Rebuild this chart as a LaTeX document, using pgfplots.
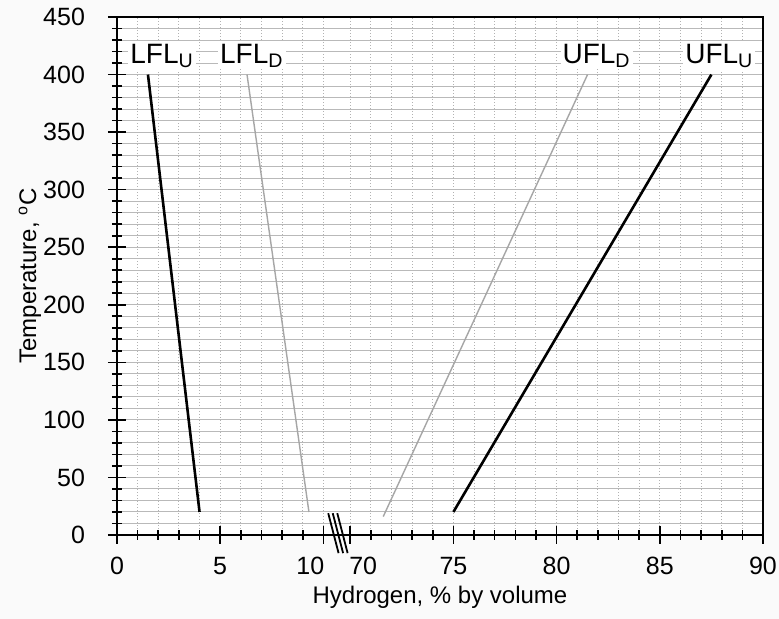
\documentclass[border=0pt]{standalone}
\usepackage{pgfplots}
\pgfplotsset{compat=1.18}
\usepackage{fontspec}
\setmainfont{Liberation Sans}
\usetikzlibrary{calc,backgrounds}
\newcommand{\tkf}{\fontsize{12.5}{14}\selectfont}

\begin{document}
\begin{tikzpicture}
\begin{axis}[
  scale only axis,
  width=323pt, height=259pt,
  % broken x axis: 70..90 is pulled left so that 70 sits just after 10
  x coord trafo/.code={\pgfmathparse{#1>40 ? #1-58.7 : #1}},
  xmin=0, xmax=90, ymin=0, ymax=450,
  xtick={0,5,10,70,75,80,85,90},
  xticklabels={{\tkf 0},{\tkf 5},{\tkf\hspace*{-13pt}10},{\tkf\hspace*{13pt}70},
    {\tkf 75},{\tkf 80},{\tkf 85},{\tkf 90}},
  minor xtick={1,2,3,4,6,7,8,9,71,72,73,74,76,77,78,79,81,82,83,84,86,87,88,89},
  ytick={0,50,...,450},
  yticklabel={\tkf\pgfmathprintnumber{\tick}},
  minor y tick num=4,
  tick pos=left,
  tick align=center,
  major tick length=9pt, minor tick length=5pt,
  tick style={black, line width=0.8pt},
  axis line style={black, line width=0.9pt},
  grid=both,
  major grid style={gray!55, line width=0.5pt},
  minor grid style={gray!55, line width=0.5pt},
  x grid style={densely dotted, gray!60},
  /pgf/number format/assume math mode=true,
  tick label style={font=\tkf},
  xticklabel style={yshift=-3pt},
  yticklabel style={xshift=-8pt},
  xlabel={Hydrogen, \% by volume},
  ylabel={Temperature, \textsuperscript{o}C},
  label style={font=\fontsize{12}{14}\selectfont},
  xlabel style={at={(rel axis cs:0.5,0)}, anchor=center, yshift=-31pt},
  ylabel style={at={(rel axis cs:0,0.5)}, anchor=center, yshift=43.5pt},
  axis background/.style={fill=white},
  clip=false,
]
% LFL upward
\addplot[black, line width=1.3pt] coordinates {(4.0,20) (1.5,400)};
% LFL downward
\addplot[gray!70, line width=0.7pt] coordinates {(9.3,20) (6.3,400)};
% UFL downward
\addplot[gray!70, line width=0.7pt] coordinates {(71.6,16) (81.5,400)};
% UFL upward
\addplot[black, line width=1.3pt] coordinates {(75,20) (87.5,400)};

\begin{scope}[every node/.style={fill=white, inner sep=1pt, anchor=base west,
    font=\fontsize{14}{16}\selectfont}]
\node at (rel axis cs:0.017,0.911) {LFL\textsubscript{U}};
\node at (rel axis cs:0.156,0.911) {LFL\textsubscript{D}};
\node at (rel axis cs:0.686,0.911) {UFL\textsubscript{D}};
\node at (rel axis cs:0.876,0.911) {UFL\textsubscript{U}};
\end{scope}

% axis break marks
\draw[black, line width=0.9pt] (rel axis cs:0.327,0.042) -- (rel axis cs:0.343,-0.035);
\draw[black, line width=0.9pt] (rel axis cs:0.334,0.042) -- (rel axis cs:0.350,-0.035);
\draw[black, line width=0.9pt] (rel axis cs:0.341,0.042) -- (rel axis cs:0.357,-0.035);
\end{axis}
\pgfresetboundingbox
\path ($(current axis.south west)+(-58.5pt,-42pt)$) rectangle ($(current axis.north east)+(8pt,8.5pt)$);
\begin{scope}[on background layer]
\fill[gray!4] ($(current axis.south west)+(-58.5pt,-42pt)$) rectangle ($(current axis.north east)+(8pt,8.5pt)$);
\end{scope}
\end{tikzpicture}
\end{document}
